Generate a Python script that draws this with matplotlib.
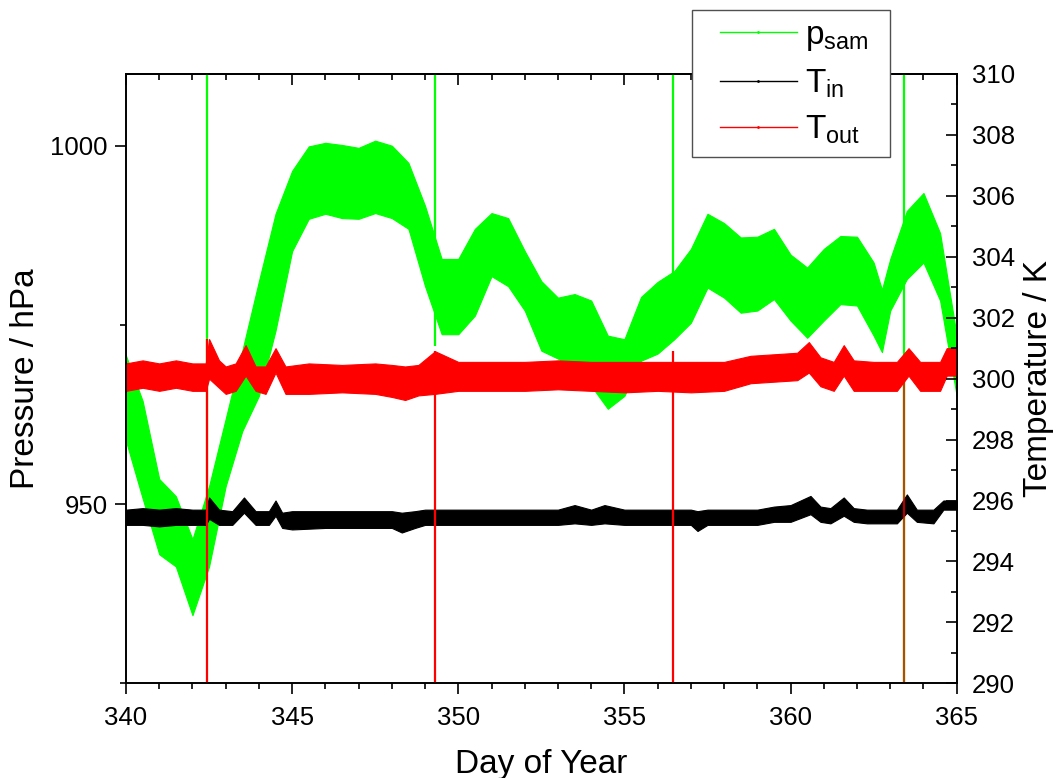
import matplotlib
matplotlib.use('Agg')
import matplotlib.pyplot as plt
from matplotlib.lines import Line2D
from matplotlib.patches import Rectangle
from matplotlib.ticker import MultipleLocator

plt.rcParams['font.family'] = ['Liberation Sans', 'DejaVu Sans']
plt.rcParams['mathtext.default'] = 'regular'

# ---------------- data ----------------
# p_sam: upper / lower envelope of the diurnally oscillating pressure band (hPa)
p_days = [340.0, 340.5, 341.0, 341.5, 342.0, 342.5, 343.0, 343.5, 344.0, 344.5,
          345.0, 345.5, 346.0, 346.5, 347.0, 347.5, 348.0, 348.5, 349.0, 349.5,
          350.0, 350.5, 351.0, 351.5, 352.0, 352.5, 353.0, 353.5, 354.0, 354.5,
          355.0, 355.5, 356.0, 356.5, 357.0, 357.5, 358.0, 358.5, 359.0, 359.5,
          360.0, 360.5, 361.0, 361.5, 362.0, 362.5, 362.75, 363.0, 363.5, 364.0,
          364.5, 365.0]
p_upper = [970.7, 964.4, 953.5, 951.1, 945.1, 952.5, 961.9, 971.4, 981.1, 990.5,
           996.5, 999.9, 1000.4, 1000.1, 999.7, 1000.7, 1000.0, 997.6, 991.6, 984.2,
           984.2, 988.4, 990.6, 989.9, 985.3, 981.1, 978.8, 979.3, 978.4, 973.5,
           973.0, 978.9, 981.0, 982.5, 985.6, 990.5, 989.2, 987.2, 987.3, 988.4,
           984.8, 983.0, 985.6, 987.4, 987.3, 983.7, 979.9, 984.2, 990.9, 993.4,
           987.8, 973.5]
p_lower = [958.8, 950.8, 943.0, 941.3, 934.5, 941.3, 952.5, 960.2, 965.1, 974.2,
           985.3, 989.8, 990.5, 989.9, 989.8, 990.6, 989.9, 988.4, 980.4, 973.7,
           973.7, 976.3, 981.8, 980.4, 977.0, 971.4, 970.3, 968.9, 966.5, 963.3,
           965.1, 970.0, 971.0, 973.0, 975.3, 980.2, 978.8, 976.7, 977.0, 978.6,
           975.6, 973.2, 975.6, 977.9, 977.7, 973.5, 971.2, 977.0, 981.4, 983.7,
           978.4, 965.1]

# T_in: upper / lower envelope (K)
tin_days = [340.0, 340.5, 341.0, 341.5, 342.0, 342.4, 342.5, 342.8, 343.2, 343.55,
            343.9, 344.3, 344.5, 344.7, 345.0, 346.0, 347.0, 348.0, 348.3, 348.7,
            349.0, 350.0, 351.0, 352.0, 353.0, 353.5, 354.0, 354.4, 355.0, 356.0,
            357.0, 357.2, 357.5, 358.0, 359.0, 359.5, 360.0, 360.6, 360.9, 361.2,
            361.6, 361.9, 362.3, 363.0, 363.2, 363.5, 363.8, 364.3, 364.6, 365.0]
tin_upper = [295.7, 295.75, 295.7, 295.75, 295.7, 295.7, 296.1, 295.7, 295.65, 296.1,
             295.65, 295.65, 296.0, 295.6, 295.65, 295.65, 295.65, 295.65, 295.6, 295.65,
             295.7, 295.7, 295.7, 295.7, 295.7, 295.85, 295.7, 295.85, 295.7, 295.7,
             295.7, 295.65, 295.7, 295.7, 295.7, 295.8, 295.85, 296.15, 295.8, 295.75,
             296.1, 295.75, 295.7, 295.7, 295.7, 296.2, 295.7, 295.7, 296.0, 296.0]
tin_lower = [295.2, 295.2, 295.15, 295.2, 295.2, 295.2, 295.4, 295.2, 295.2, 295.6,
             295.2, 295.2, 295.5, 295.1, 295.05, 295.1, 295.1, 295.1, 294.95, 295.1,
             295.2, 295.2, 295.2, 295.2, 295.2, 295.25, 295.2, 295.25, 295.2, 295.2,
             295.2, 295.0, 295.2, 295.2, 295.2, 295.3, 295.3, 295.55, 295.3, 295.25,
             295.5, 295.3, 295.25, 295.25, 295.25, 295.6, 295.3, 295.25, 295.7, 295.7]

# T_out: upper / lower envelope (K)
tout_days = [340.0, 340.5, 341.0, 341.5, 342.0, 342.4, 342.5, 342.8, 343.0, 343.3,
             343.6, 343.9, 344.2, 344.5, 344.8, 345.5, 346.5, 347.5, 348.0, 348.4,
             348.8, 349.3, 350.0, 351.0, 352.0, 353.0, 354.0, 355.0, 356.0, 357.0,
             358.0, 358.8, 359.5, 360.2, 360.55, 360.9, 361.3, 361.6, 361.9, 362.5,
             363.2, 363.55, 363.9, 364.5, 364.7, 365.0]
tout_upper = [300.5, 300.6, 300.5, 300.6, 300.5, 300.5, 301.3, 300.6, 300.4, 300.5,
              301.1, 300.4, 300.4, 301.0, 300.4, 300.5, 300.45, 300.5, 300.45, 300.4,
              300.45, 300.9, 300.55, 300.55, 300.55, 300.6, 300.55, 300.55, 300.55, 300.55,
              300.55, 300.75, 300.8, 300.85, 301.2, 300.7, 300.55, 301.1, 300.6, 300.55,
              300.55, 301.0, 300.55, 300.55, 301.0, 301.0]
tout_lower = [299.6, 299.7, 299.6, 299.7, 299.6, 299.6, 300.0, 299.7, 299.5, 299.6,
              300.1, 299.6, 299.5, 300.2, 299.5, 299.5, 299.55, 299.5, 299.4, 299.3,
              299.45, 299.5, 299.6, 299.6, 299.6, 299.65, 299.6, 299.55, 299.6, 299.55,
              299.6, 299.85, 299.9, 299.95, 300.2, 299.75, 299.6, 300.1, 299.6, 299.6,
              299.6, 300.1, 299.6, 299.6, 300.1, 300.1]

# instrument spikes (day, lowest p of green spike, highest T of red spike)
spike_days = [342.45, 349.3, 356.45, 363.4]
spike_p_low = [950.0, 972.0, 972.8, 925.0]
spike_t_high = [301.3, 300.9, 300.9, 300.6]

legend_labels = ['p$_{sam}$', 'T$_{in}$', 'T$_{out}$']
GREEN = '#00ff00'

# ---------------- figure ----------------
W, H = 1057, 778
fig = plt.figure(figsize=(W / 100, H / 100), dpi=100)
ax = fig.add_axes([126 / W, 1 - 683.3 / H, 830.7 / W, 609.3 / H])
ax2 = ax.twinx()

ax.fill_between(p_days, p_lower, p_upper, color=GREEN, lw=0.8)
ax.vlines(spike_days, spike_p_low, 1010, color=GREEN, lw=1.6)

ax2.fill_between(tin_days, tin_lower, tin_upper, color='black', lw=0.8)
ax2.fill_between(tout_days, tout_lower, tout_upper, color='red', lw=0.8)
ax2.vlines(spike_days[:3], 290, spike_t_high[:3], color='red', lw=1.6)
ax2.vlines(spike_days[3:], 290, spike_t_high[3:], color='red', lw=1.6, alpha=0.7)

ax.set_xlim(340, 365)
ax.set_ylim(925, 1010)
ax2.set_ylim(290, 310)

ax.xaxis.set_major_locator(MultipleLocator(5))
ax.xaxis.set_minor_locator(MultipleLocator(1))
ax.yaxis.set_major_locator(MultipleLocator(50))
ax.yaxis.set_minor_locator(MultipleLocator(25))
ax2.yaxis.set_major_locator(MultipleLocator(2))
ax2.yaxis.set_minor_locator(MultipleLocator(1))

for a in (ax, ax2):
    for s in a.spines.values():
        s.set_linewidth(1.2)

ax.tick_params(axis='both', which='major', direction='out', length=8, width=1.2,
               labelsize=18.5, pad=5)
ax.tick_params(axis='x', which='major', pad=8)
ax.tick_params(axis='both', which='minor', direction='out', length=4.5, width=1.2)
ax.tick_params(axis='y', right=False)
ax2.tick_params(axis='y', which='major', direction='in', length=8, width=1.2,
                labelsize=18.5, pad=11)
ax2.tick_params(axis='y', which='minor', direction='in', length=4.5, width=1.2)

sec = ax.secondary_xaxis('top')
sec.xaxis.set_major_locator(MultipleLocator(5))
sec.xaxis.set_minor_locator(MultipleLocator(1))
sec.tick_params(axis='x', which='major', direction='in', length=8, width=1.2, labeltop=False)
sec.tick_params(axis='x', which='minor', direction='in', length=4.5, width=1.2)
sec.spines['top'].set_linewidth(1.2)

ax.set_xlabel('Day of Year', fontsize=24, labelpad=14)
ax.set_ylabel('Pressure / hPa', fontsize=24, labelpad=7)
ax2.set_ylabel('Temperature / K', fontsize=24, labelpad=6)

# legend box (sits over the top axis line, as in the reference)
fig.patches.append(Rectangle((692 / W, 1 - 157 / H), 198 / W, 147 / H,
                             transform=fig.transFigure, facecolor='white',
                             edgecolor='#505050', linewidth=1.0, zorder=4))
handles = [Line2D([], [], color=GREEN, lw=1, marker='.', markersize=2),
           Line2D([], [], color='black', lw=1, marker='.', markersize=2),
           Line2D([], [], color='red', lw=1, marker='.', markersize=2)]
leg = fig.legend(handles, legend_labels, loc='upper left',
                 bbox_to_anchor=(720 / W, 1 - 20 / H), fontsize=24,
                 frameon=False, handlelength=2.3, handletextpad=0.25,
                 borderpad=0, labelspacing=0.43, borderaxespad=0)
leg.set_zorder(5)

fig.savefig('out.png', dpi=100)
